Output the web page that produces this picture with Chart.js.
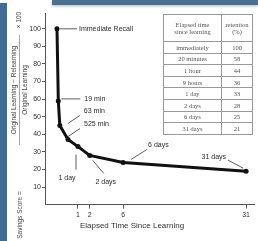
<!DOCTYPE html>
<html><head><meta charset="utf-8">
<script src="https://cdn.jsdelivr.net/npm/chart.js@4"></script>
<style>
html,body{margin:0;padding:0;background:#fff;}
#wrap{position:relative;width:258px;height:241px;overflow:hidden;background:#fff;}
canvas{position:absolute;left:0;top:0;}
#lbar{position:absolute;left:0;top:3px;width:7px;height:238px;background:#3f6c94;}
#tbar{position:absolute;left:52px;top:0;width:206px;height:5px;background:#4b6f8e;box-shadow:0 1px 3px #9fb3c4;}
#tbl{position:absolute;left:163px;top:14px;width:90px;border-collapse:collapse;font-family:'Liberation Serif',serif;font-size:6.5px;color:#555;}
#tbl td{border:1px solid #9a9a9a;text-align:center;padding:0;line-height:7px;font-weight:normal;}
#tbl tr{height:11.6px;}
#tbl tr.h{height:27px;}
</style></head>
<body>
<div id="wrap">
<canvas id="c" width="258" height="241"></canvas>
<div id="lbar"></div><div id="tbar"></div>
<table id="tbl"></table>
</div>
<script>
// ---- data ----
const elapsedMinutes = [0, 19, 63, 525, 1440, 2880, 8640, 44640];
const retention = [100, 59, 45, 37, 33, 28, 24, 19];
const pointLabels = ['Immediate Recall', '19 min', '63 min', '525 min', '1 day', '2 days', '6 days', '31 days'];
const xTickDays = [1, 2, 6, 31];
const xTickLabels = ['1', '2', '6', '31'];
const yTickValues = [10, 20, 30, 40, 50, 60, 70, 80, 90, 100];
const tableHeader = [['Elapsed time', 'since learning'], ['retention', '(%)']];
const tableTimes = ['immediately', '20 minutes', '1 hour', '9 hours', '1 day', '2 days', '6 days', '31 days'];
const tableRetention = ['100', '58', '44', '36', '33', '28', '25', '21'];

// ---- table ----
const tbl = document.getElementById('tbl');
let html = '<tr class="h">' + tableHeader.map(h => '<td>' + h.join('<br>') + '</td>').join('') + '</tr>';
tableTimes.forEach((t, i) => { html += '<tr><td style="width:57px">' + t + '</td><td>' + tableRetention[i] + '</td></tr>'; });
tbl.innerHTML = html;

// ---- compressed time axis ----
const EXP = 0.64;
const pos = m => Math.pow(m / 1440, EXP);

// label placement (relative to each point's pixel): line [x1,y1,x2,y2], text [dx,dy,align]
const labelLayout = [
  {line: [3, 0, 20, 0], text: [22, 0, 'left']},
  {line: [3, -2, 22, -2], text: [26, -2, 'left']},
  {line: [8, -2, 20, -10], text: [24, -14, 'left']},
  {line: [0, -3, 12, -11], text: [16, -15, 'left']},
  {line: [-2, 23, -2, 8], text: [-11, 31, 'center']},
  {line: [14, 18, 3, 5], text: [16, 27, 'center']},
  {line: [8, -3, 24, -13], text: [25, -17, 'left']},
  {line: [-18, -11, -3, -3], text: [-20, -14, 'right']}
];

const annot = {
  id: 'annot',
  afterDraw(chart) {
    const ctx = chart.ctx;
    const meta = chart.getDatasetMeta(0);
    ctx.save();
    ctx.fillStyle = '#2a2a2a';
    ctx.strokeStyle = '#333';
    ctx.lineWidth = 0.8;
    ctx.font = '7px "Liberation Sans", Arial, sans-serif';
    ctx.textBaseline = 'middle';
    meta.data.forEach((pt, i) => {
      const L = labelLayout[i];
      const x = pt.x, y = pt.y;
      ctx.beginPath();
      ctx.moveTo(x + L.line[0], y + L.line[1]);
      ctx.lineTo(x + L.line[2], y + L.line[3]);
      ctx.stroke();
      ctx.textAlign = L.text[2];
      ctx.fillText(pointLabels[i], x + L.text[0], y + L.text[1]);
    });
    // x title
    ctx.font = '8px "Liberation Sans", Arial, sans-serif';
    ctx.textAlign = 'center';
    ctx.fillStyle = '#333';
    ctx.fillText('Elapsed Time Since Learning', 132, 226);
    // y title (rotated)
    ctx.font = '6.5px "Liberation Sans", Arial, sans-serif';
    ctx.fillStyle = '#444';
    ctx.translate(0, 0);
    ctx.rotate(-Math.PI / 2);
    ctx.fillText('Savings Score =', -215, 20);
    ctx.fillText('Original Learning \u2212 Relearning', -90, 14);
    ctx.fillText('Original Learning', -90, 25);
    ctx.fillText('\u00d7 100', -20, 19);
    ctx.beginPath();
    ctx.moveTo(-145, 19.5); ctx.lineTo(-35, 19.5);
    ctx.strokeStyle = '#666'; ctx.lineWidth = 0.6; ctx.stroke();
    ctx.restore();
  }
};

new Chart(document.getElementById('c'), {
  type: 'line',
  data: {
    datasets: [{
      data: elapsedMinutes.map((m, i) => ({x: pos(m), y: retention[i]})),
      borderColor: '#111',
      backgroundColor: '#111',
      borderWidth: 3,
      pointRadius: 2.5,
      pointBackgroundColor: '#111',
      pointBorderWidth: 0,
      tension: 0,
      clip: false
    }]
  },
  options: {
    responsive: false, animation: false, devicePixelRatio: 1,
    layout: {padding: {top: 13, right: 4, left: 0, bottom: 0}},
    plugins: {legend: {display: false}, tooltip: {enabled: false}},
    scales: {
      x: {
        type: 'linear', min: -0.571, max: 9.38,
        afterFit(s) { s.height = 36.4; },
        afterBuildTicks(s) { s.ticks = xTickDays.map(d => ({value: pos(d * 1440)})); },
        ticks: {callback: (v, i) => xTickLabels[i], font: {family: 'Liberation Sans', size: 7}, color: '#333', padding: 2, maxRotation: 0, autoSkip: false},
        grid: {drawOnChartArea: false, tickLength: 4, color: '#555'},
        border: {color: '#555', width: 1}
      },
      y: {
        type: 'linear', min: 0, max: 109,
        afterFit(s) { s.width = 45; },
        afterBuildTicks(s) { s.ticks = yTickValues.map(v => ({value: v})); },
        ticks: {font: {family: 'Liberation Sans', size: 7}, color: '#333', padding: 1, autoSkip: false},
        grid: {drawOnChartArea: false, tickLength: 3, color: '#555'},
        border: {color: '#555', width: 1}
      }
    }
  },
  plugins: [annot]
});
</script>
</body></html>
